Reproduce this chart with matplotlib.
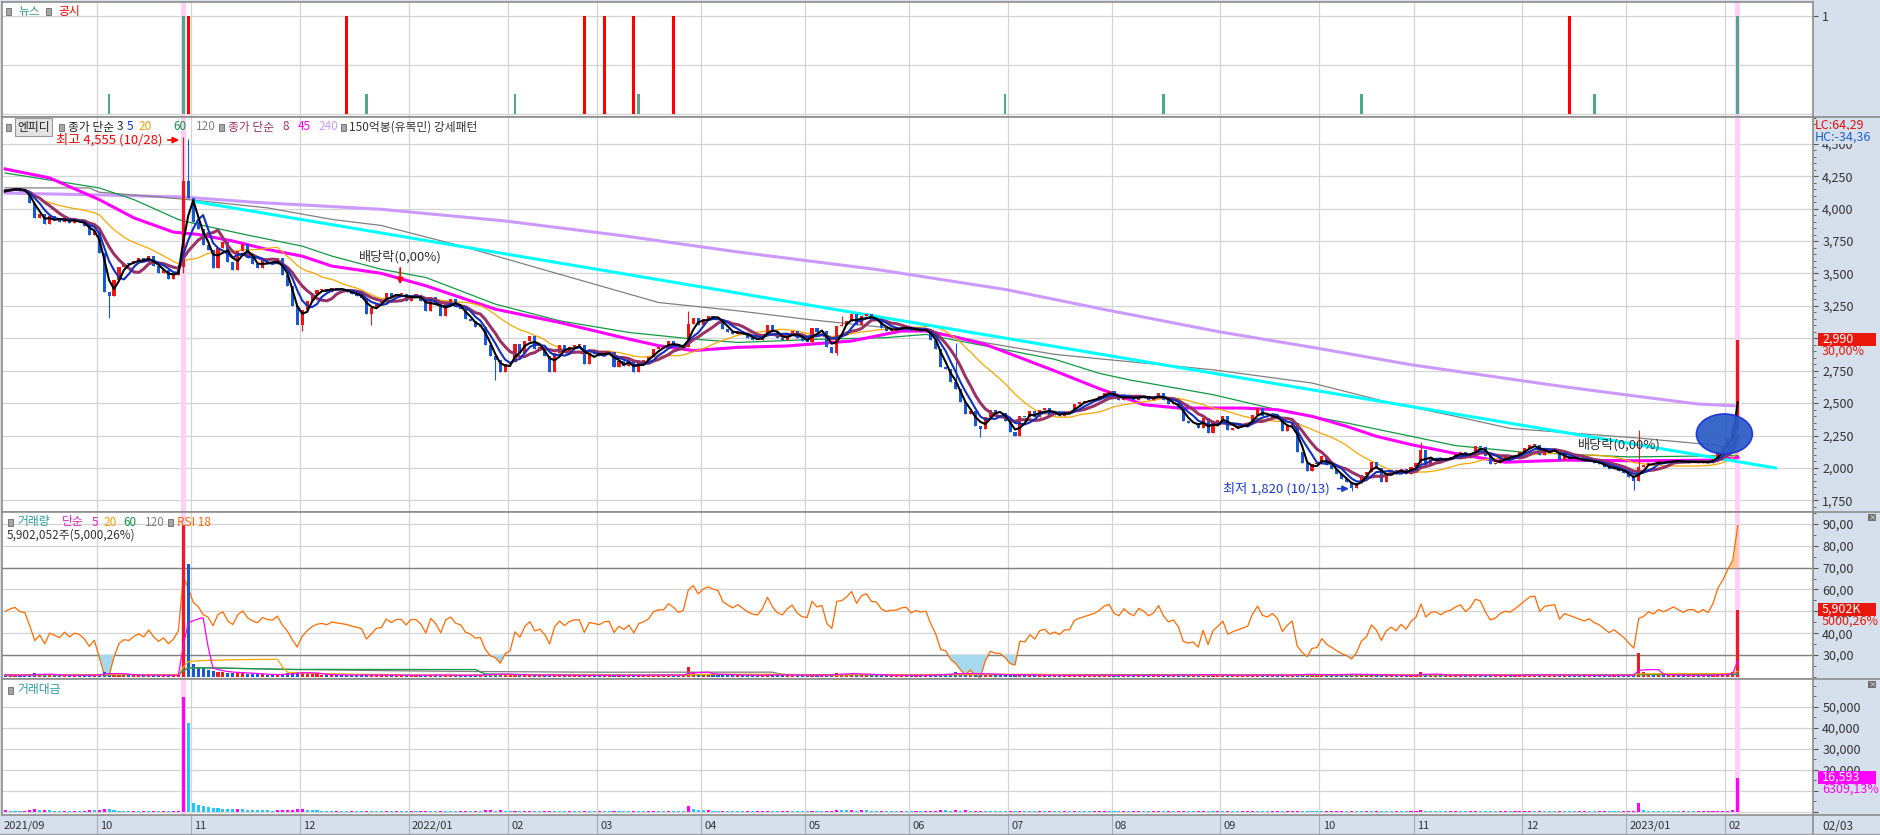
import numpy as np
import pandas as pd
import matplotlib
matplotlib.use('Agg')
import matplotlib.pyplot as plt
import matplotlib.transforms as mtransforms
from matplotlib.patches import Ellipse, Rectangle
from matplotlib.lines import Line2D

plt.rcParams['font.family'] = ['Noto Sans CJK KR', 'DejaVu Sans']
plt.rcParams['axes.unicode_minus'] = False

W, H = 1881, 835
STRIP = '#d6e0ec'

# 거래일 (KRX 휴장일 제외)
holidays = ['2021-09-20', '2021-09-21', '2021-09-22', '2021-10-04', '2021-10-11',
            '2021-12-31', '2022-01-31', '2022-02-01', '2022-02-02', '2022-03-01',
            '2022-03-09', '2022-05-05', '2022-06-01', '2022-06-06', '2022-08-15',
            '2022-09-09', '2022-09-12', '2022-10-03', '2022-10-10', '2022-12-30',
            '2023-01-23', '2023-01-24']
dates = pd.bdate_range('2021-09-01', '2023-02-03')
dates = dates[~dates.isin(pd.to_datetime(holidays))]

# 종가 (월별)
close = [
    4135, 4150, 4160, 4135, 4130, 4045, 3930, 3960, 3880, 3940, 3920, 3900, 3930, 3890, 3910, 3900, 3865, 3800, 3830,
    3656, 3360, 3330, 3450, 3550, 3580, 3570, 3600, 3620, 3585, 3635, 3560, 3505, 3530, 3460, 3490, 3550, 4210, 4080,
    3900, 3840, 3720, 3680, 3540, 3700, 3740, 3590, 3530, 3670, 3730, 3620, 3570, 3540, 3610, 3580, 3570, 3620, 3490, 3400, 3250, 3100,
    3220, 3290, 3340, 3370, 3380, 3360, 3390, 3380, 3370, 3360, 3340, 3330, 3310, 3190, 3230, 3275, 3280, 3350, 3315, 3340, 3340, 3290,
    3330, 3330, 3290, 3210, 3315, 3265, 3175, 3275, 3300, 3240, 3225, 3150, 3130, 3085, 3090, 2950, 2860, 2830, 2740, 2800,
    2820, 2955, 2890, 2980, 3020, 2915, 2930, 2865, 2740, 2890, 2945, 2890, 2930, 2945, 2945, 2800, 2890, 2880,
    2865, 2890, 2895, 2775, 2825, 2790, 2825, 2740, 2815, 2830, 2855, 2915, 2930, 2930, 2980, 2955, 2915, 2930, 3110, 3160, 3100,
    3150, 3175, 3160, 3150, 3075, 3050, 3030, 3055, 3030, 3005, 2990, 2985, 3025, 3105, 3045, 3005, 2990, 3030, 3055, 3005, 2980,
    2975, 3080, 3045, 3055, 2930, 2890, 3095, 3100, 3135, 3185, 3100, 3170, 3190, 3135, 3130, 3080, 3060, 3070, 3070, 3085, 3090,
    3055, 3070, 3060, 3065, 2990, 2915, 2775, 2760, 2660, 2605, 2505, 2415, 2440, 2325, 2300, 2390, 2450, 2425, 2420, 2365,
    2275, 2250, 2400, 2390, 2440, 2390, 2450, 2460, 2410, 2425, 2400, 2430, 2430, 2490, 2505, 2515, 2525, 2535, 2552, 2578, 2590,
    2540, 2525, 2565, 2540, 2525, 2565, 2550, 2525, 2540, 2578, 2525, 2490, 2500, 2460, 2360, 2345, 2350, 2310, 2385, 2270, 2345, 2370,
    2400, 2295, 2310, 2320, 2330, 2340, 2410, 2460, 2400, 2390, 2410, 2380, 2285, 2320, 2345, 2120, 2040, 1980, 2030, 2035,
    2090, 2025, 1990, 1950, 1915, 1890, 1845, 1880, 1945, 1970, 2045, 2000, 1895, 1960, 1985, 1950, 1995, 1950, 2005,
    2035, 2140, 2030, 2070, 2075, 2050, 2075, 2085, 2110, 2125, 2080, 2110, 2170, 2160, 2090, 2030, 2040, 2070, 2085, 2080, 2100, 2125,
    2150, 2175, 2180, 2100, 2130, 2135, 2140, 2060, 2090, 2080, 2070, 2060, 2050, 2060, 2040, 2030, 2010, 1990, 2000, 1980, 1960,
    1930, 1900, 2010, 2020, 2040, 2030, 2050, 2040, 2050, 2060, 2050, 2040, 2050, 2050, 2040, 2050, 2040, 2070, 2130, 2170,
    2230, 2300, 2990,
]
first_open = 4150

# 거래량 (천주)
volume = [
    180, 160, 150, 140, 170, 260, 310, 220, 240, 190, 160, 150, 170, 140, 150, 130, 160, 210, 190,
    250, 420, 380, 260, 200, 180, 170, 190, 160, 180, 150, 170, 140, 160, 130, 150, 170, 13400, 9960,
    1100, 900, 750, 600, 520, 480, 420, 380, 350, 400, 380, 300, 260, 240, 220, 200, 190, 210, 260, 320, 360, 420,
    480, 300, 260, 220, 200, 180, 170, 190, 160, 150, 170, 160, 150, 210, 170, 160, 150, 170, 140, 160, 150, 140,
    150, 140, 160, 200, 170, 160, 190, 170, 150, 140, 150, 180, 160, 190, 170, 260, 280, 220, 300, 210,
    180, 200, 160, 170, 190, 150, 140, 160, 210, 170, 160, 140, 150, 140, 130, 180, 150, 140,
    150, 140, 130, 170, 150, 140, 130, 180, 160, 150, 170, 190, 180, 160, 200, 170, 160, 150, 850, 420, 300,
    260, 280, 220, 200, 210, 180, 170, 160, 150, 160, 140, 150, 160, 220, 180, 160, 170, 190, 170, 160, 150,
    140, 180, 170, 160, 190, 210, 380, 300, 260, 280, 220, 260, 230, 190, 170, 180, 160, 150, 140, 160, 150,
    150, 160, 140, 150, 190, 230, 280, 260, 240, 400, 280, 300, 260, 280, 300, 260, 230, 200, 180, 170,
    220, 200, 230, 170, 160, 150, 170, 160, 180, 150, 140, 150, 140, 180, 170, 160, 150, 160, 170, 180, 160,
    150, 140, 150, 130, 140, 150, 140, 130, 150, 160, 150, 170, 160, 190, 200, 180, 170, 190, 220, 180, 160, 170,
    160, 170, 150, 140, 150, 180, 210, 170, 160, 150, 160, 180, 150, 160, 240, 260, 250, 220, 200, 190,
    180, 190, 210, 230, 240, 230, 280, 220, 200, 210, 180, 190, 170, 160, 150, 160, 150, 140, 160,
    200, 420, 260, 200, 180, 170, 160, 170, 180, 170, 160, 180, 200, 170, 160, 150, 140, 150, 160, 150, 160, 170,
    180, 190, 170, 200, 170, 160, 150, 170, 160, 150, 140, 150, 160, 150, 140, 160, 170, 160, 150, 140, 160,
    180, 260, 2100, 420, 260, 220, 200, 180, 170, 160, 150, 160, 150, 140, 150, 160, 170, 200, 240, 260,
    320, 420, 5902,
]

# 꼬리 (고가/저가)
wick_high = {36: 4555, 37: 4540, 138: 3210, 169: 3170, 192: 2960, 286: 2200, 330: 2290, 350: 2990}
wick_low = {21: 3160, 36: 3500, 59: 3120, 60: 3060, 74: 3100, 99: 2675, 128: 2740, 168: 2870,
            197: 2235, 272: 1820, 329: 1830, 350: 2300}

# 장기 이동평균
ma45_days = [0, 9, 19, 26, 34, 39, 46, 53, 60, 66, 76, 85, 99, 112, 126, 132, 139, 148, 158, 171, 181,
             186, 191, 198, 205, 212, 221, 230, 237, 250, 257, 264, 271, 277, 284, 293, 303, 315, 330, 345, 350]
ma45_vals = [4306, 4237, 4070, 3929, 3819, 3801, 3750, 3685, 3634, 3557, 3501, 3405, 3225, 3122, 2994, 2943,
             2905, 2930, 2941, 2979, 3056, 3056, 3018, 2953, 2851, 2749, 2612, 2488, 2462, 2462, 2449, 2398,
             2321, 2244, 2180, 2111, 2044, 2060, 2055, 2060, 2080]
ma60_days = [0, 19, 26, 35, 39, 50, 60, 66, 76, 85, 99, 112, 126, 139, 148, 164, 178, 186, 191, 198, 212,
             221, 227, 244, 257, 271, 284, 293, 307, 328, 350]
ma60_vals = [4275, 4160, 4070, 3916, 3878, 3788, 3711, 3634, 3532, 3469, 3264, 3135, 3045, 2994, 2968, 2992,
             3005, 3030, 2992, 2941, 2838, 2730, 2680, 2565, 2449, 2347, 2244, 2172, 2120, 2085, 2095]
ma120_days = [0, 17, 19, 29, 37, 53, 66, 76, 92, 112, 132, 148, 162, 178, 187, 198, 212, 221, 244, 264,
              279, 293, 304, 330, 350]
ma120_vals = [4160, 4160, 4127, 4096, 4070, 4006, 3917, 3870, 3713, 3494, 3276, 3212, 3146, 3082, 3056,
              2966, 2876, 2842, 2757, 2655, 2510, 2398, 2305, 2230, 2160]
ma240_days = [0, 20, 36, 50, 76, 101, 125, 148, 176, 202, 221, 245, 265, 284, 300, 315, 330, 342, 350]
ma240_vals = [4120, 4105, 4090, 4050, 3995, 3905, 3790, 3666, 3531, 3377, 3230, 3052, 2924, 2796, 2708,
              2626, 2551, 2493, 2478]

# 추세선
trend_days = [38, 357.6]
trend_vals = [4057, 2000]

# 뉴스 / 공시
news_days = [21, 36, 73, 103, 128, 202, 234, 274, 321, 350]
news_vals = [0.2, 1, 0.2, 0.2, 0.2, 0.2, 0.2, 0.2, 0.2, 1]
disc_days = [37, 69, 117, 121, 127, 135, 316]
disc_vals = [1, 1, 1, 1, 1, 1, 1]

highlight_days = [36, 350]

assert len(close) == len(dates) == len(volume)

n = len(close)
x = np.arange(n)
c = np.array(close, dtype=float)
o = np.r_[first_open, c[:-1]]
hi = np.maximum(o, c)
lo = np.minimum(o, c)
for k, v in wick_high.items():
    hi[k] = v
for k, v in wick_low.items():
    lo[k] = v
up = c >= o
ccol = np.where(up, '#f01414', '#1858d8')

vol = np.array(volume, dtype=float)
tv = vol * (hi + lo + c) / 3 / 1000  # 백만원
tv_col = ['#ff00ff'] + ['#ff00ff' if tv[i] >= tv[i - 1] else '#25c5ff' for i in range(1, n)]

s = pd.Series(c)
ma3 = s.rolling(3, min_periods=1).mean()
ma5 = s.rolling(5, min_periods=1).mean()
ma8 = s.rolling(8, min_periods=1).mean()
ma20 = s.rolling(20, min_periods=1).mean()

vs = pd.Series(vol)
vma5 = vs.rolling(5, min_periods=1).mean()
vma20 = vs.rolling(20, min_periods=1).mean()
vma60 = vs.rolling(60, min_periods=1).mean()
vma120 = vs.rolling(120, min_periods=1).mean()


def wilder_rsi(p, period=18, seed=20.0):
    ag, al = seed, seed
    out = [50.0]
    for i in range(1, len(p)):
        d = p[i] - p[i - 1]
        ag = (ag * (period - 1) + max(d, 0)) / period
        al = (al * (period - 1) + max(-d, 0)) / period
        out.append(100 * ag / (ag + al))
    return np.array(out)


rsi = wilder_rsi(c)

# ---------------- figure ----------------
fig = plt.figure(figsize=(W / 100, H / 100), dpi=100, facecolor=STRIP)


def rect_of(top, bottom):
    return [2 / W, 1 - bottom / H, 1811 / W, (bottom - top) / H]


ax_n = fig.add_axes(rect_of(2, 117))
ax_p = fig.add_axes(rect_of(117, 512))
ax_r = fig.add_axes(rect_of(512, 679))
ax_t = fig.add_axes(rect_of(679, 815))
# 거래량 막대는 RSI 창 위에 겹쳐 그림
ax_v = fig.add_axes(rect_of(512, 679))

XL = (-0.63, 365.2)
month_pos = [i for i in range(1, n) if dates[i].month != dates[i - 1].month]
edges = [p - 0.5 for p in month_pos]

for ax in [ax_n, ax_p, ax_r, ax_t]:
    ax.set_xlim(*XL)
    ax.set_facecolor('white')
    ax.set_axisbelow(True)
    for sp in ax.spines.values():
        sp.set_color('#8c8c8c')
        sp.set_linewidth(1.2)
    for e in edges:
        ax.axvline(e, color='#d4d4d4', lw=0.9, zorder=0)
    for d in highlight_days:
        ax.axvspan(d - 0.5, d + 0.5, color='#ffd0f6', lw=0, zorder=0.6)
    ax.yaxis.tick_right()
    ax.tick_params(axis='x', which='both', bottom=False, labelbottom=False)
    ax.tick_params(axis='y', which='both', direction='out', color='#555555',
                   labelcolor='#333333', labelsize=9, pad=3)
    ax.tick_params(axis='y', which='major', length=3.6)
    ax.tick_params(axis='y', which='minor', length=2.2)
    ax.grid(axis='y', which='major', color='#d4d4d4', lw=0.9)

# 뉴스/공시
ax_n.set_ylim(-0.03, 1.14)
ax_n.set_yticks([1])
ax_n.set_yticklabels(['1'])
ax_n.axhline(0, color='#d4d4d4', lw=0.9, zorder=0)
ax_n.axhline(0.5, color='#d4d4d4', lw=0.9, zorder=0)
ax_n.bar(news_days, news_vals, width=0.55, color='#4fa88b', zorder=3)
ax_n.bar(disc_days, disc_vals, width=0.6, color='#ff0000', zorder=3)

# 가격
ax_p.set_ylim(1660, 4707)
pt = np.arange(1750, 4501, 250)
ax_p.set_yticks(pt)
ax_p.set_yticklabels([f'{v:,}' for v in pt])
ax_p.set_yticks(np.arange(1700, 4701, 50), minor=True)

ax_p.plot(ma240_days, ma240_vals, color='#cc99ff', lw=2.2, zorder=2)
ax_p.plot(ma120_days, ma120_vals, color='#808080', lw=0.9, zorder=2)
ax_p.plot(ma60_days, ma60_vals, color='#119944', lw=0.9, zorder=2)
ax_p.plot(ma45_days, ma45_vals, color='#ff00ff', lw=2.2, zorder=2)
ax_p.plot(x, ma20, color='#f5a800', lw=0.9, zorder=2)
ax_p.plot(trend_days, trend_vals, color='#00ffff', lw=2.2, zorder=2.5)

body_lo = np.minimum(o, c)
body_h = np.maximum(np.abs(c - o), 8)
ax_p.vlines(x, lo, hi, colors=list(ccol), lw=0.8, zorder=3)
ax_p.bar(x, body_h, bottom=body_lo, width=0.62, color=list(ccol), lw=0, zorder=3)

ax_p.plot(x, ma8, color='#993366', lw=2.2, zorder=4)
ax_p.plot(x, ma5, color='#1030c0', lw=1.5, zorder=4)
ax_p.plot(x, ma3, color='#000000', lw=1.5, zorder=4)

ax_p.add_patch(Ellipse((347.3, 2262), 11.3, 308, facecolor='#2a5cc4', edgecolor='#1a2ee0',
                       lw=1.2, alpha=0.93, zorder=5))

ax_p.text(31.8, 4529, '최고 4,555 (10/28)', color='#ff0000', ha='right', va='center', fontsize=9.5, zorder=6)
ax_p.annotate('', xy=(35.7, 4529), xytext=(32.3, 4529),
              arrowprops=dict(arrowstyle='-|>', color='#ff0000', lw=1.2, mutation_scale=9), zorder=6)
ax_p.text(267.6, 1840, '최저 1,820 (10/13)', color='#1c3cd8', ha='right', va='center', fontsize=9.5, zorder=6)
ax_p.annotate('', xy=(272.0, 1840), xytext=(268.6, 1840),
              arrowprops=dict(arrowstyle='-|>', color='#1c3cd8', lw=1.2, mutation_scale=9), zorder=6)
ax_p.text(79.8, 3627, '배당락(0,00%)', color='#333333', ha='center', va='center', fontsize=9.5, zorder=6)
ax_p.annotate('', xy=(79.8, 3395), xytext=(79.8, 3565),
              arrowprops=dict(arrowstyle='-|>', color='#ff0000', lw=1.2, mutation_scale=9), zorder=6)
ax_p.text(326, 2177, '배당락(0,00%)', color='#333333', ha='center', va='center', fontsize=9.5, zorder=6)

# RSI
ax_r.set_ylim(19, 95.5)
rt = np.arange(30, 91, 10)
ax_r.set_yticks(rt)
ax_r.set_yticklabels([f'{v},00' for v in rt])
ax_r.set_yticks(np.arange(20, 96, 5), minor=True)
ax_r.axhline(70, color='#808080', lw=1, zorder=1)
ax_r.axhline(30, color='#808080', lw=1, zorder=1)
ax_r.fill_between(x, rsi, 30, where=rsi < 30, interpolate=True, color='#a6d9ee', lw=0, zorder=1.5)
ax_r.fill_between(x, rsi, 70, where=rsi > 70, interpolate=True, color='#ffc8a0', lw=0, zorder=1.5)
ax_r.plot(x, rsi, color='#ff6a00', lw=0.9, zorder=2)

# 거래량
ax_v.set_xlim(*XL)
ax_v.set_ylim(-180, 14540)
ax_v.set_axis_off()
ax_v.patch.set_visible(False)
ax_v.bar(x, vol, width=0.62, color=list(np.where(up, '#ee1c1c', '#1858d8')), lw=0, zorder=3)
ax_v.plot(x, vma120, color='#808080', lw=0.9, zorder=4)
ax_v.plot(x, vma60, color='#119944', lw=0.9, zorder=4)
ax_v.plot(x, vma20, color='#f5a800', lw=0.9, zorder=4)
ax_v.plot(x, vma5, color='#ff00ff', lw=0.9, zorder=4)

# 거래대금
ax_t.set_ylim(-1430, 63330)
ax_t.set_yticks([0, 10000, 20000, 30000, 40000, 50000])
ax_t.set_yticklabels(['', '', '20,000', '30,000', '40,000', '50,000'])
ax_t.set_yticks(np.arange(0, 60001, 5000), minor=True)
ax_t.bar(x, tv, width=0.62, color=tv_col, lw=0, zorder=3)

# 날짜 축 띠
ax_t.set_xticks(edges)
ax_t.tick_params(axis='x', which='major', bottom=True, length=14, width=0.8,
                 color='#a4aebb', direction='out', labelbottom=False)
tr = mtransforms.blended_transform_factory(ax_t.transData, fig.transFigure)
for i, p in enumerate([0] + month_pos):
    d = dates[p]
    lab = f'{d.year}/{d.month:02d}' if (i == 0 or d.month == 1) else f'{d.month:02d}'
    xd = -0.4 if i == 0 else p - 0.5 + 0.7
    ax_t.text(xd, 1 - 826 / H, lab, transform=tr, ha='left', va='center',
              fontsize=8, color='#333333', clip_on=False)


def ftext(px, py, txt, **kw):
    return fig.text(px / W, 1 - py / H, txt, **kw)


def fline(x0, y0, x1, y1, color='#8c8c8c', lw=1.2):
    fig.add_artist(Line2D([x0 / W, x1 / W], [1 - y0 / H, 1 - y1 / H],
                          transform=fig.transFigure, color=color, lw=lw))


def frect(px, py, w, h, fc, ec='none', lw=0, z=5):
    fig.add_artist(Rectangle((px / W, 1 - (py + h) / H), w / W, h / H, transform=fig.transFigure,
                             facecolor=fc, edgecolor=ec, lw=lw, zorder=z))


for yy in [117, 512, 679, 815]:
    fline(1813, yy, W, yy)
fline(1813, 815, 1813, H)
fline(0, 834, W, 834, color='#a0a0a0', lw=1)

ftext(1822, 826, '02/03', fontsize=8.5, color='#333333', va='center')

# 우측 값 표시
ftext(1815, 125, 'LC:64,29', fontsize=9, color='#e01010', va='center')
ftext(1815, 137, 'HC:-34,36', fontsize=9, color='#1f5fd0', va='center',
      bbox=dict(facecolor=STRIP, edgecolor='none', pad=0.6))


def tag(py, label, sub, color):
    frect(1818, py - 6.5, 58, 13, color)
    ftext(1822, py, label, fontsize=9, color='white', va='center', zorder=6)
    ftext(1822, py + 12, sub, fontsize=9, color=color, va='center', zorder=6)


tag(339.5, '2,990', '30,00%', '#e8180c')
tag(609.5, '5,902K', '5000,26%', '#e8180c')
tag(777.5, '16,593', '6309,13%', '#ff00ff')

for by in [514, 681]:
    frect(1868, by, 8, 7, '#707070')
    ftext(1872, by + 3.5, '×', fontsize=5.5, color='white', ha='center', va='center', zorder=6)

# 범례 (기준 위치에 배치, 겹치면 뒤로 밀기)
renderer = fig.canvas.get_renderer()
ENP_BOX = dict(boxstyle='square,pad=0.2', facecolor='#e4e4e4', edgecolor='#9a9a9a', lw=0.8)


def legend_row(py, parts, size=8.5):
    end = 0
    for item in parts:
        px = max(item[0], end)
        if item[1] is None:
            frect(px, py - 3.5, 5, 7, '#a6a6a6', ec='#6a6a6a', lw=0.6)
            end = px + 8
            continue
        kw = {'bbox': item[3]} if len(item) > 3 else {}
        t = ftext(px, py, item[1], color=item[2], fontsize=size, va='center', ha='left', **kw)
        end = px + t.get_window_extent(renderer).width + (7 if kw else 3)


legend_row(11, [(6, None), (18, '뉴스', '#3aa080'), (46, None), (58, '공시', '#ff0000')])
legend_row(127, [(6, None), (17, '엔피디', '#222222', ENP_BOX), (59, None),
                 (68, '종가 단순', '#222222'), (109, '3', '#222222'), (127, '5', '#1030c0'),
                 (138, '20', '#f0a000'), (173, '60', '#119944'), (196, '120', '#808080'),
                 (217, None), (228, '종가 단순', '#993366'), (283, '8', '#993366'),
                 (298, '45', '#ff00ff'), (318, '240', '#cc99ff'),
                 (340, None), (349, '150억봉(유목민) 강세패턴', '#333333')])
legend_row(522, [(8, None), (17, '거래량', '#2a9d9d'), (62, '단순', '#e020c0'), (92, '5', '#e020c0'),
                 (103, '20', '#f0a000'), (123, '60', '#119944'), (145, '120', '#808080'),
                 (168, None), (177, 'RSI 18', '#ff6600')])
ftext(7, 535, '5,902,052주(5,000,26%)', fontsize=8.5, color='#333333', va='center')
legend_row(690, [(8, None), (17, '거래대금', '#2a9d9d')])

fig.savefig('out.png', dpi=100, facecolor=fig.get_facecolor())
